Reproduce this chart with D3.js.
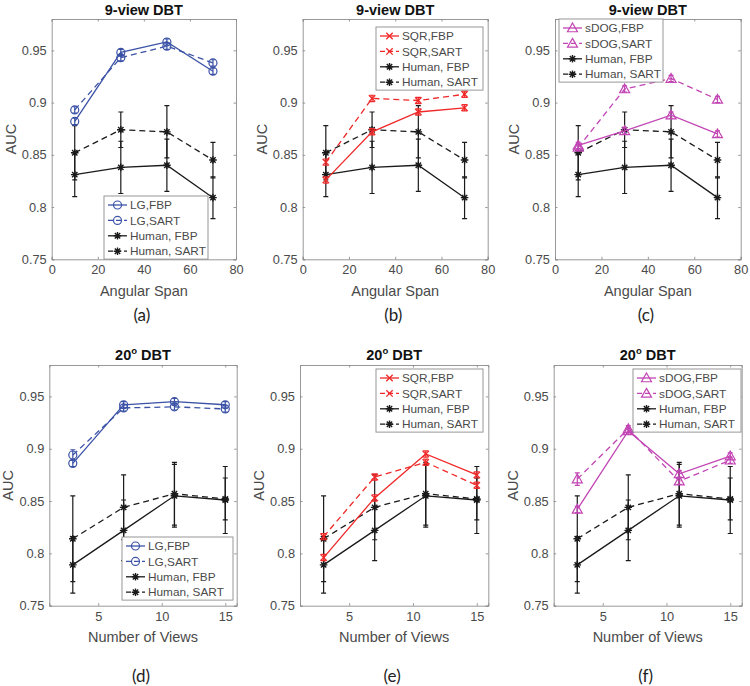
<!DOCTYPE html>
<html>
<head>
<meta charset="utf-8">
<script src="https://cdn.jsdelivr.net/npm/d3@7"></script>
<style>
  body { margin: 0; background: #fff; }
  svg { display: block; }
</style>
</head>
<body>
<svg id="chart" width="750" height="686"></svg>
<script>
// ---------------- DATA ----------------
const spanX = [10, 30, 50, 70];
const viewsX = [3, 7, 11, 15];
const spanTicks = [0, 20, 40, 60, 80];
const viewsTicks = [5, 10, 15];
const yTicks = [0.75, 0.8, 0.85, 0.9, 0.95];
const yTickLabels = ["0.75", "0.8", "0.85", "0.9", "0.95"];

const humanSpanFBP = [0.831, 0.838, 0.840, 0.809];
const humanSpanFBPErr = [0.021, 0.025, 0.025, 0.020];
const humanSpanSART = [0.852, 0.874, 0.872, 0.845];
const humanSpanSARTErr = [0.026, 0.017, 0.025, 0.017];
const humanViewsFBP = [0.789, 0.822, 0.855, 0.851];
const humanViewsFBPErr = [0.027, 0.029, 0.030, 0.032];
const humanViewsSART = [0.814, 0.844, 0.857, 0.852];
const humanViewsSARTErr = [0.041, 0.031, 0.030, 0.020];

const lgSpanFBP = [0.882, 0.948, 0.958, 0.930];
const lgSpanSART = [0.893, 0.943, 0.954, 0.938];
const sqrSpanFBP = [0.826, 0.872, 0.891, 0.895];
const sqrSpanSART = [0.843, 0.904, 0.902, 0.908];
const sdogSpanFBP = [0.859, 0.873, 0.888, 0.870];
const sdogSpanSART = [0.857, 0.913, 0.923, 0.903];

const lgViewsFBP = [0.886, 0.942, 0.945, 0.942];
const lgViewsSART = [0.894, 0.939, 0.940, 0.938];
const sqrViewsFBP = [0.796, 0.853, 0.895, 0.875];
const sqrViewsSART = [0.816, 0.873, 0.887, 0.865];
const sdogViewsFBP = [0.842, 0.917, 0.876, 0.893];
const sdogViewsSART = [0.871, 0.919, 0.869, 0.889];

const modelErr = [0.003, 0.003, 0.003, 0.003];
const lgViewsSARTErr = [0.005, 0.003, 0.003, 0.003];
const sdogViewsSARTErr = [0.006, 0.003, 0.003, 0.003];

const titles = ["9-view DBT", "20"];
const xLabels = ["Angular Span", "Number of Views"];
const panelLetters = ["(a)", "(b)", "(c)", "(d)", "(e)", "(f)"];

// ---------------- STYLE / LAYOUT ----------------
const colors = { LG: "#3b52a6", SQR: "#f02828", sDOG: "#c245b4", Human: "#1a1a1a" };
const markers = { LG: "circle", SQR: "x", sDOG: "triangle", Human: "star" };

const boxes = [
  { l: 51.7, r: 236, t: 19, b: 259.3 },
  { l: 302.7, r: 487.7, t: 19, b: 259.3 },
  { l: 555, r: 740.7, t: 19, b: 259.3 },
  { l: 49.3, r: 236.7, t: 365, b: 605.7 },
  { l: 300, r: 488.3, t: 365, b: 605.7 },
  { l: 553.7, r: 741.7, t: 365, b: 605.7 }
];
const legends = [
  { x: 104, y: 196, w: 104 },
  { x: 376, y: 27, w: 107 },
  { x: 559, y: 19, w: 104 },
  { x: 122, y: 537, w: 111 },
  { x: 376, y: 369, w: 107 },
  { x: 633, y: 369, w: 108 }
];

const panels = [
  { row: 0, model: "LG", fbp: lgSpanFBP, sart: lgSpanSART, fErr: modelErr, sErr: modelErr },
  { row: 0, model: "SQR", fbp: sqrSpanFBP, sart: sqrSpanSART, fErr: modelErr, sErr: modelErr },
  { row: 0, model: "sDOG", fbp: sdogSpanFBP, sart: sdogSpanSART, fErr: modelErr, sErr: modelErr },
  { row: 1, model: "LG", fbp: lgViewsFBP, sart: lgViewsSART, fErr: modelErr, sErr: lgViewsSARTErr },
  { row: 1, model: "SQR", fbp: sqrViewsFBP, sart: sqrViewsSART, fErr: modelErr, sErr: modelErr },
  { row: 1, model: "sDOG", fbp: sdogViewsFBP, sart: sdogViewsSART, fErr: modelErr, sErr: sdogViewsSARTErr }
];

const svg = d3.select("#chart");
const axisColor = "#8c8c8c";
const textColor = "#4a4a4a";
const font = "'Liberation Sans', Arial, sans-serif";

function drawMarker(g, type, cx, cy, color) {
  if (type === "circle") {
    g.append("circle").attr("cx", cx).attr("cy", cy).attr("r", 4)
      .attr("fill", "none").attr("stroke", color).attr("stroke-width", 1.2);
  } else if (type === "x") {
    const s = 3.2;
    g.append("path").attr("d", `M${cx - s},${cy - s}L${cx + s},${cy + s}M${cx - s},${cy + s}L${cx + s},${cy - s}`)
      .attr("stroke", color).attr("stroke-width", 1.3).attr("fill", "none");
  } else if (type === "triangle") {
    const s = 5;
    g.append("path").attr("d", `M${cx},${cy - s}L${cx + s},${cy + s * 0.75}L${cx - s},${cy + s * 0.75}Z`)
      .attr("stroke", color).attr("stroke-width", 1.2).attr("fill", "none");
  } else if (type === "star") {
    const s = 3.8;
    const d = [];
    for (let k = 0; k < 4; k++) {
      const a = k * Math.PI / 4;
      d.push(`M${cx - s * Math.cos(a)},${cy - s * Math.sin(a)}L${cx + s * Math.cos(a)},${cy + s * Math.sin(a)}`);
    }
    g.append("path").attr("d", d.join("")).attr("stroke", color).attr("stroke-width", 1.4).attr("fill", "none");
  }
}

function drawSeries(g, xs, ys, errs, x, y, color, marker, dashed) {
  const line = d3.line().x((d, i) => x(xs[i])).y(d => y(d));
  g.append("path").datum(ys).attr("d", line).attr("fill", "none")
    .attr("stroke", color).attr("stroke-width", 1.3)
    .attr("stroke-dasharray", dashed ? "6,4" : null);
  ys.forEach((v, i) => {
    const cx = x(xs[i]);
    const e = errs[i];
    const y0 = y(v - e), y1 = y(v + e);
    const cap = 2.5;
    g.append("path")
      .attr("d", `M${cx},${y0}L${cx},${y1}M${cx - cap},${y0}L${cx + cap},${y0}M${cx - cap},${y1}L${cx + cap},${y1}`)
      .attr("stroke", color).attr("stroke-width", 1.2).attr("fill", "none");
    drawMarker(g, marker, cx, y(v), color);
  });
}

panels.forEach((p, idx) => {
  const bx = boxes[idx];
  const xs = p.row === 0 ? spanX : viewsX;
  const xDomain = p.row === 0 ? [0, 80] : [1.15, 15.9];
  const xTickVals = p.row === 0 ? spanTicks : viewsTicks;
  const x = d3.scaleLinear().domain(xDomain).range([bx.l, bx.r]);
  const y = d3.scaleLinear().domain([0.75, 0.98]).range([bx.b, bx.t]);
  const g = svg.append("g");

  // axes (MATLAB-style box with inward ticks)
  const tickLen = 2.5;
  const xAxisB = d3.axisBottom(x).tickValues(xTickVals).tickSize(-tickLen).tickPadding(6).tickFormat(d3.format("d"));
  const xAxisT = d3.axisTop(x).tickValues(xTickVals).tickSize(-tickLen).tickFormat("");
  const yAxisL = d3.axisLeft(y).tickValues(yTicks).tickSize(-tickLen).tickPadding(5)
    .tickFormat((d, i) => yTickLabels[i]);
  const yAxisR = d3.axisRight(y).tickValues(yTicks).tickSize(-tickLen).tickFormat("");

  [[xAxisB, `translate(0,${bx.b})`], [xAxisT, `translate(0,${bx.t})`],
   [yAxisL, `translate(${bx.l},0)`], [yAxisR, `translate(${bx.r},0)`]].forEach(([ax, tr]) => {
    const a = g.append("g").attr("transform", tr).call(ax);
    a.select(".domain").attr("stroke", axisColor).attr("stroke-width", 0.9);
    a.selectAll(".tick line").attr("stroke", axisColor).attr("stroke-width", 0.9);
    a.selectAll(".tick text").attr("fill", textColor).attr("font-family", font).attr("font-size", 12.8);
  });

  // series
  const mc = colors[p.model];
  const hFBP = p.row === 0 ? humanSpanFBP : humanViewsFBP;
  const hFBPErr = p.row === 0 ? humanSpanFBPErr : humanViewsFBPErr;
  const hSART = p.row === 0 ? humanSpanSART : humanViewsSART;
  const hSARTErr = p.row === 0 ? humanSpanSARTErr : humanViewsSARTErr;
  drawSeries(g, xs, hFBP, hFBPErr, x, y, colors.Human, "star", false);
  drawSeries(g, xs, hSART, hSARTErr, x, y, colors.Human, "star", true);
  drawSeries(g, xs, p.fbp, p.fErr, x, y, mc, markers[p.model], false);
  drawSeries(g, xs, p.sart, p.sErr, x, y, mc, markers[p.model], true);

  // title
  const cx = (bx.l + bx.r) / 2;
  const title = g.append("text").attr("x", cx).attr("y", p.row === 0 ? 14.5 : 359.5)
    .attr("text-anchor", "middle").attr("font-family", font).attr("font-weight", "bold")
    .attr("font-size", 14.5).attr("fill", "#111");
  if (p.row === 0) {
    title.text(titles[0]);
  } else {
    title.append("tspan").text(titles[1]);
    title.append("tspan").text("o").attr("font-size", 9.5).attr("dy", -5.5);
    title.append("tspan").text(" DBT").attr("dy", 5.5);
  }

  // axis labels
  g.append("text").attr("x", cx).attr("y", p.row === 0 ? 296 : 642)
    .attr("text-anchor", "middle").attr("font-family", font).attr("font-size", 14.5)
    .attr("fill", textColor).text(xLabels[p.row]);
  g.append("text").attr("transform", `translate(${bx.l - 36},${(bx.t + bx.b) / 2}) rotate(-90)`)
    .attr("text-anchor", "middle").attr("font-family", font).attr("font-size", 14.5)
    .attr("fill", textColor).text("AUC");

  // panel letter
  g.append("text").attr("x", cx - 2).attr("y", p.row === 0 ? 321 : 682)
    .attr("text-anchor", "middle").attr("font-family", "Lato, 'Open Sans', sans-serif").attr("font-size", 17)
    .attr("fill", "#222").text(panelLetters[idx]);

  // legend
  const lg = legends[idx];
  const rowH = 15.4;
  const lgH = rowH * 4 + 1.5;
  g.append("rect").attr("x", lg.x).attr("y", lg.y).attr("width", lg.w).attr("height", lgH)
    .attr("fill", "#fff").attr("stroke", axisColor).attr("stroke-width", 0.9);
  const entries = [
    { name: `${p.model},FBP`, color: mc, marker: markers[p.model], dashed: false },
    { name: `${p.model},SART`, color: mc, marker: markers[p.model], dashed: true },
    { name: "Human, FBP", color: colors.Human, marker: "star", dashed: false },
    { name: "Human, SART", color: colors.Human, marker: "star", dashed: true }
  ];
  entries.forEach((e, i) => {
    const yy = lg.y + 9 + i * rowH;
    g.append("path").attr("d", `M${lg.x + 4},${yy}L${lg.x + 23},${yy}`)
      .attr("stroke", e.color).attr("stroke-width", 1.3)
      .attr("stroke-dasharray", e.dashed ? "5,3" : null);
    drawMarker(g, e.marker, lg.x + 13.5, yy, e.color);
    g.append("text").attr("x", lg.x + 26).attr("y", yy + 4.2)
      .attr("font-family", font).attr("font-size", 11.8).attr("fill", textColor).text(e.name);
  });
});
</script>
</body>
</html>
